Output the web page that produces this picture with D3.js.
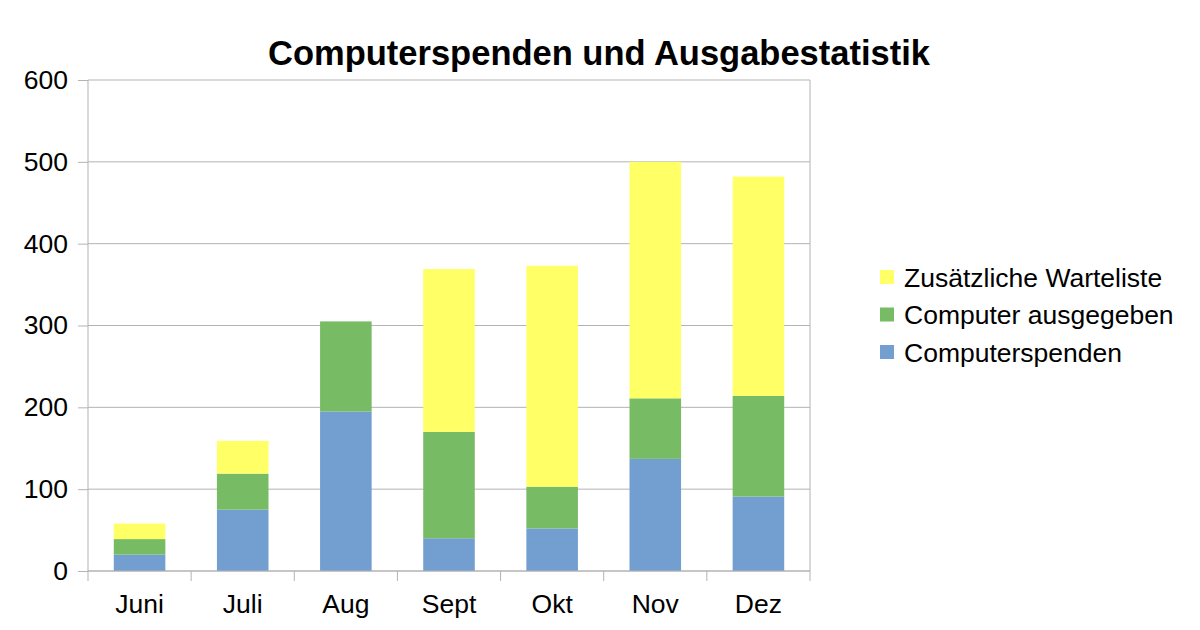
<!DOCTYPE html>
<html>
<head>
<meta charset="utf-8">
<script src="https://cdn.jsdelivr.net/npm/d3@7"></script>
<style>
  body { margin: 0; background: #fff; }
  svg { display: block; font-family: "Liberation Sans", Arial, sans-serif; }
</style>
</head>
<body>
<svg id="chart" width="1200" height="630"></svg>
<script>
// Data
const months = ['Juni', 'Juli', 'Aug', 'Sept', 'Okt', 'Nov', 'Dez'];
const spenden = [20, 75, 195, 40, 52, 137, 91];
const ausgegeben = [19, 44, 110, 130, 51, 74, 123];
const warteliste = [19, 40, 0, 199, 270, 289, 268];
const seriesNames = ['Computerspenden', 'Computer ausgegeben', 'Zusätzliche Warteliste'];
const seriesColors = ['#729fcf', '#77bc65', '#ffff66'];
const yTicks = [0, 100, 200, 300, 400, 500, 600];

const svg = d3.select('#chart');
const margin = { left: 88, right: 390, top: 80, bottom: 59 };
const innerWidth = 1200 - margin.left - margin.right;
const innerHeight = 630 - margin.top - margin.bottom;

const g = svg.append('g')
    .attr('transform', `translate(${margin.left},${margin.top})`);

const rows = months.map((m, i) => ({
    month: m,
    s0: spenden[i],
    s1: ausgegeben[i],
    s2: warteliste[i]
}));
const stacked = d3.stack().keys(['s0', 's1', 's2'])(rows);

// Scales
const x = d3.scaleBand().domain(months).range([0, innerWidth]).paddingInner(0.5).paddingOuter(0.25);
const xBand = d3.scaleBand().domain(months).range([0, innerWidth]);
const y = d3.scaleLinear().domain([0, 600]).range([innerHeight, 0]);

// Grid
g.append('g')
    .selectAll('line')
    .data(yTicks)
    .join('line')
    .attr('x1', 0)
    .attr('x2', innerWidth)
    .attr('y1', d => y(d))
    .attr('y2', d => y(d))
    .attr('stroke', '#b3b3b3')
    .attr('stroke-width', 1);

// Right border
g.append('line')
    .attr('x1', innerWidth).attr('x2', innerWidth)
    .attr('y1', 0).attr('y2', innerHeight)
    .attr('stroke', '#b3b3b3');

// Bars
g.append('g')
    .selectAll('g')
    .data(stacked)
    .join('g')
    .attr('fill', (d, i) => seriesColors[i])
    .selectAll('rect')
    .data(d => d.filter(p => p[1] > p[0]))
    .join('rect')
    .attr('x', d => x(d.data.month))
    .attr('width', x.bandwidth())
    .attr('y', d => y(d[1]))
    .attr('height', d => y(d[0]) - y(d[1]));

// Y axis
const yAxis = g.append('g')
    .call(d3.axisLeft(y).tickValues(yTicks).tickSize(10).tickPadding(10));
yAxis.select('.domain').attr('stroke', '#b3b3b3').attr('d', `M0,0V${innerHeight}`);
yAxis.selectAll('.tick line').attr('stroke', '#b3b3b3');
yAxis.selectAll('.tick text')
    .style('font-size', '26.5px')
    .attr('fill', '#000');

// X axis with ticks at category boundaries
const xAxis = g.append('g')
    .attr('transform', `translate(0,${innerHeight})`);
xAxis.append('line')
    .attr('x1', 0).attr('x2', innerWidth)
    .attr('stroke', '#b3b3b3');
xAxis.selectAll('.bound')
    .data(d3.range(months.length + 1))
    .join('line')
    .attr('class', 'bound')
    .attr('x1', i => i * xBand.step())
    .attr('x2', i => i * xBand.step())
    .attr('y1', 0)
    .attr('y2', 10)
    .attr('stroke', '#b3b3b3');
xAxis.selectAll('text')
    .data(months)
    .join('text')
    .attr('x', d => xBand(d) + xBand.bandwidth() / 2)
    .attr('y', 42)
    .attr('text-anchor', 'middle')
    .style('font-size', '26.5px')
    .attr('fill', '#000')
    .text(d => d);

// Title
svg.append('text')
    .attr('x', 599)
    .attr('y', 65)
    .attr('text-anchor', 'middle')
    .style('font-size', '34.5px')
    .style('font-weight', 'bold')
    .text('Computerspenden und Ausgabestatistik');

// Legend (reverse order)
const legend = svg.append('g').attr('transform', 'translate(880,277)');
const legendItems = legend.selectAll('g')
    .data([2, 1, 0])
    .join('g')
    .attr('transform', (d, i) => `translate(0,${i * 37.5})`);
legendItems.append('rect')
    .attr('x', 0)
    .attr('y', -7)
    .attr('width', 14)
    .attr('height', 14)
    .attr('fill', d => seriesColors[d]);
legendItems.append('text')
    .attr('x', 24)
    .attr('y', 9.5)
    .style('font-size', '26.5px')
    .text(d => seriesNames[d]);
</script>
</body>
</html>
